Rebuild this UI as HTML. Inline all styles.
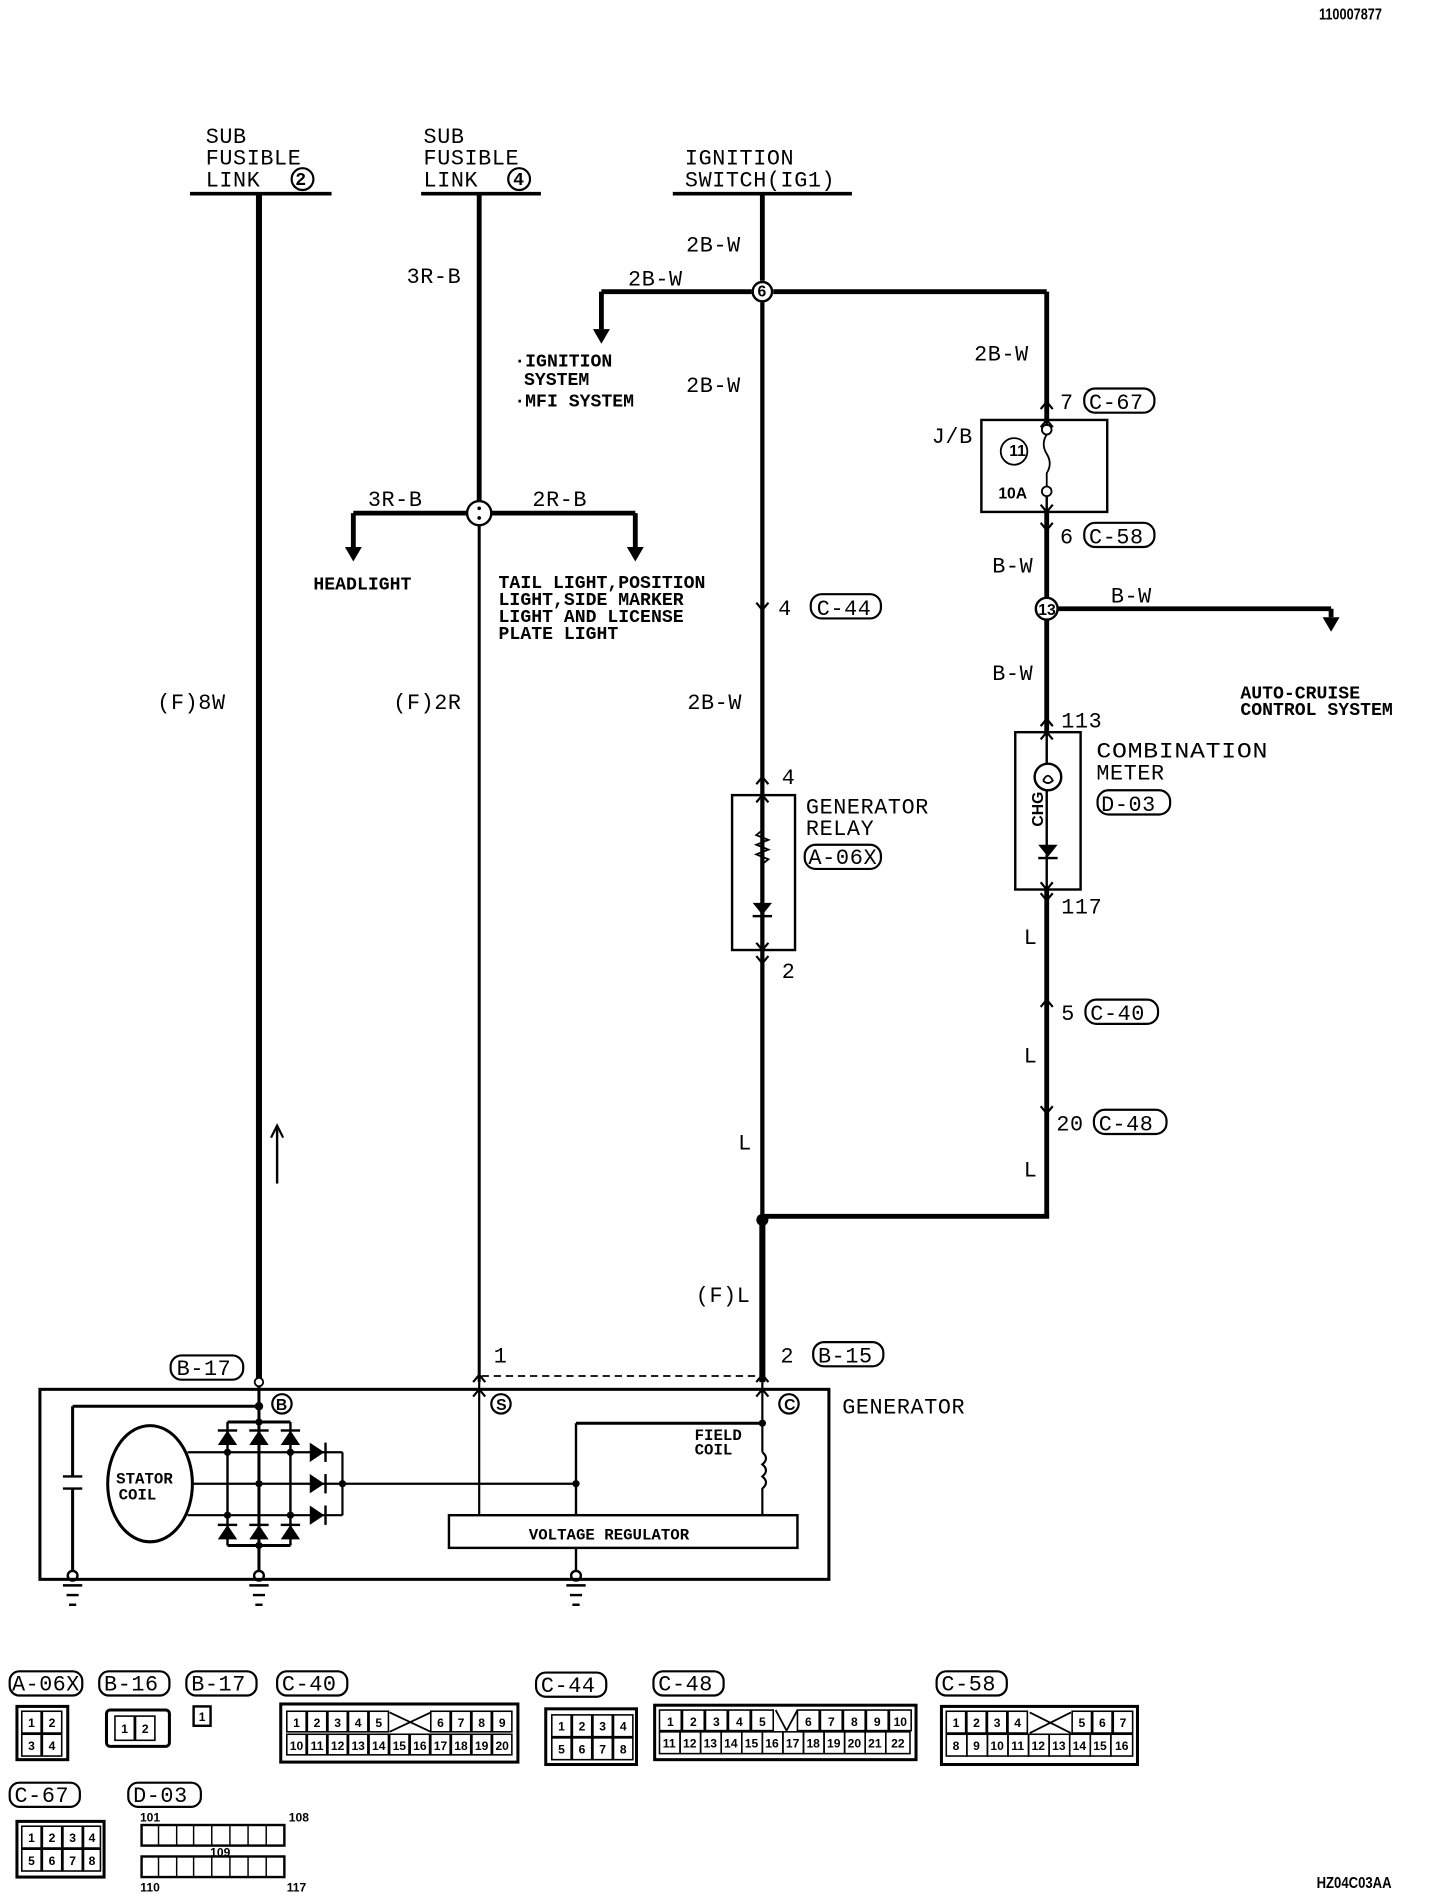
<!DOCTYPE html>
<html><head><meta charset="utf-8"><style>
html,body{margin:0;padding:0;background:#fff}
svg{display:block}
text{font-family:"Liberation Mono",monospace;fill:#000}
.t{font-size:18px;letter-spacing:0.5px}
.s{font-size:15px;font-weight:bold}
.b{font-size:13px;font-weight:bold;font-family:"Liberation Sans",sans-serif}
.c text{font-family:"Liberation Sans",sans-serif;font-weight:bold;font-size:10px;text-anchor:middle}
.c rect{fill:none;stroke:#000;stroke-width:1.3}
</style></head><body>
<svg width="1440" height="1894" viewBox="0 0 1190 1565" preserveAspectRatio="none" xmlns="http://www.w3.org/2000/svg">
<g stroke="#000" fill="none" stroke-linecap="butt">
<line x1="157" y1="160" x2="274" y2="160" stroke-width="3"/>
<line x1="348" y1="160" x2="447" y2="160" stroke-width="3"/>
<line x1="556" y1="160" x2="704" y2="160" stroke-width="3"/>
<line x1="214" y1="160" x2="214" y2="1142" stroke-width="5"/>
<line x1="396" y1="160" x2="396" y2="414" stroke-width="4"/>
<line x1="396" y1="434" x2="396" y2="1142" stroke-width="2.5"/>
<line x1="630" y1="160" x2="630" y2="232" stroke-width="4"/>
<line x1="630" y1="250" x2="630" y2="1142" stroke-width="3.5"/>
<line x1="630" y1="1008" x2="630" y2="1142" stroke-width="5"/>
<line x1="497" y1="241" x2="621" y2="241" stroke-width="4"/>
<line x1="639" y1="241" x2="865" y2="241" stroke-width="4"/>
<line x1="497" y1="241" x2="497" y2="272" stroke-width="4"/>
<line x1="865" y1="241" x2="865" y2="347" stroke-width="4"/>
<circle cx="630" cy="241" r="8" stroke-width="2" fill="#fff"/>
<line x1="292" y1="424" x2="386" y2="424" stroke-width="4"/>
<line x1="406" y1="424" x2="525" y2="424" stroke-width="4"/>
<line x1="292" y1="424" x2="292" y2="452" stroke-width="4"/>
<line x1="525" y1="424" x2="525" y2="452" stroke-width="4"/>
<circle cx="396" cy="424" r="10" stroke-width="2" fill="#fff"/>
<rect x="811" y="347" width="104" height="76" stroke-width="2"/>
<line x1="865" y1="423" x2="865" y2="495" stroke-width="4"/>
<line x1="865" y1="512" x2="865" y2="605" stroke-width="4"/>
<line x1="874" y1="503" x2="1100" y2="503" stroke-width="4"/>
<line x1="1100" y1="503" x2="1100" y2="510" stroke-width="4"/>
<circle cx="865" cy="503" r="9" stroke-width="2" fill="#fff"/>
<line x1="865" y1="347" x2="865" y2="352" stroke-width="2"/>
<circle cx="865" cy="355" r="4" stroke-width="1.5"/>
<path d="M865 359 Q860 367 865 375 Q870 383 865 391 L865 402" stroke-width="1.5"/>
<circle cx="865" cy="406" r="4" stroke-width="1.5"/>
<line x1="865" y1="410" x2="865" y2="423" stroke-width="2"/>
<circle cx="838" cy="373" r="11" stroke-width="1.5"/>
<rect x="839" y="605" width="54" height="130" stroke-width="2"/>
<line x1="865" y1="605" x2="865" y2="632" stroke-width="2"/>
<circle cx="866" cy="642" r="11" stroke-width="2"/>
<path d="M862 645 q4 -8 8 0 q-4 4 -8 0" stroke-width="1.5"/>
<line x1="865" y1="653" x2="865" y2="735" stroke-width="2"/>
<line x1="865" y1="735" x2="865" y2="1006" stroke-width="4"/>
<line x1="630" y1="1005" x2="867" y2="1005" stroke-width="4"/>
<rect x="605" y="657" width="52" height="128" stroke-width="2"/>
<line x1="229" y1="932" x2="229" y2="978" stroke-width="2"/>
<line x1="398" y1="1137" x2="628" y2="1137" stroke-width="1.5" stroke-dasharray="6,4"/>
<rect x="33" y="1148" width="652" height="157" stroke-width="2.5"/>
<line x1="214" y1="1142" x2="214" y2="1277" stroke-width="2.5"/>
<line x1="60" y1="1162" x2="214" y2="1162" stroke-width="2.5"/>
<line x1="60" y1="1162" x2="60" y2="1220" stroke-width="2.5"/>
<line x1="52" y1="1220" x2="68" y2="1220" stroke-width="2"/>
<line x1="52" y1="1230" x2="68" y2="1230" stroke-width="2"/>
<line x1="60" y1="1230" x2="60" y2="1298" stroke-width="2.5"/>
<line x1="188" y1="1175" x2="240" y2="1175" stroke-width="2.5"/>
<line x1="188" y1="1277" x2="240" y2="1277" stroke-width="2.5"/>
<line x1="188" y1="1175" x2="188" y2="1277" stroke-width="2"/>
<line x1="240" y1="1175" x2="240" y2="1277" stroke-width="2"/>
<line x1="214" y1="1277" x2="214" y2="1298" stroke-width="2.5"/>
<ellipse cx="124" cy="1226" rx="35" ry="48" stroke-width="2.5"/>
<path d="M155 1200 H283 M159 1226 H476 M155 1252 H283 M283 1200 V1252" stroke-width="1.8"/>
<line x1="396" y1="1142" x2="396" y2="1252" stroke-width="1.8"/>
<line x1="630" y1="1142" x2="630" y2="1200" stroke-width="1.8"/>
<path d="M630 1200 q6 5 0 10 q6 5 0 10 q6 5 0 10 L630 1252" stroke-width="1.8"/>
<line x1="476" y1="1176" x2="630" y2="1176" stroke-width="2.5"/>
<line x1="476" y1="1176" x2="476" y2="1252" stroke-width="2"/>
<rect x="371" y="1252" width="288" height="27" stroke-width="2"/>
<line x1="476" y1="1279" x2="476" y2="1298" stroke-width="2"/>
<g stroke-width="2">
<circle cx="60" cy="1302" r="4"/><line x1="52" y1="1310" x2="68" y2="1310"/><line x1="55" y1="1318" x2="65" y2="1318"/><line x1="57" y1="1326" x2="63" y2="1326"/>
<circle cx="214" cy="1302" r="4"/><line x1="206" y1="1310" x2="222" y2="1310"/><line x1="209" y1="1318" x2="219" y2="1318"/><line x1="211" y1="1326" x2="217" y2="1326"/>
<circle cx="476" cy="1302" r="4"/><line x1="468" y1="1310" x2="484" y2="1310"/><line x1="471" y1="1318" x2="481" y2="1318"/><line x1="473" y1="1326" x2="479" y2="1326"/>
</g>
<g stroke-width="1.8">
<path d="M860 338 L865 332 L870 338"/><path d="M860 353 L865 347 L870 353"/>
<path d="M860 417 L865 423 L870 417"/><path d="M860 432 L865 438 L870 432"/>
<path d="M860 600 L865 594 L870 600"/><path d="M860 611 L865 605 L870 611"/>
<path d="M860 729 L865 735 L870 729"/><path d="M860 738 L865 744 L870 738"/>
<path d="M860 832 L865 826 L870 832"/>
<path d="M860 914 L865 920 L870 914"/>
<path d="M625 498 L630 504 L635 498"/>
<path d="M625 648 L630 642 L635 648"/><path d="M625 663 L630 657 L635 663"/>
<path d="M625 779 L630 785 L635 779"/><path d="M625 790 L630 796 L635 790"/>
<path d="M391 1142 L396 1136 L401 1142"/><path d="M391 1154 L396 1148 L401 1154"/>
<path d="M625 1142 L630 1136 L635 1142"/><path d="M625 1154 L630 1148 L635 1154"/>
<path d="M224 940 L229 930 L234 940"/>
</g>
<path d="M630 686 l-5 4 l10 4 l-10 4 l10 4 l-10 4 l10 4 l-5 4" stroke-width="1.5"/>
</g>
<g fill="#000">
<polygon points="490,272 504,272 497,284"/>
<polygon points="285,452 299,452 292,464"/>
<polygon points="518,452 532,452 525,464"/>
<polygon points="1093,510 1107,510 1100,522"/>
<polygon points="622,746 638,746 630,756"/><rect x="622" y="756" width="16" height="2"/>
<polygon points="858,698 874,698 866,708"/><rect x="858" y="708" width="16" height="2"/>
<circle cx="630" cy="1008" r="5"/>
<circle cx="396" cy="420" r="1.5"/><circle cx="396" cy="428" r="1.5"/>
<circle cx="214" cy="1162" r="3.5"/><circle cx="214" cy="1142" r="3.5" fill="#fff" stroke="#000" stroke-width="1.5"/>
<circle cx="476" cy="1226" r="3"/><circle cx="630" cy="1176" r="3"/><circle cx="283" cy="1226" r="3"/>
<circle cx="188" cy="1200" r="3"/><circle cx="214" cy="1226" r="3"/><circle cx="240" cy="1252" r="3"/>
<circle cx="188" cy="1252" r="3"/><circle cx="240" cy="1200" r="3"/><circle cx="214" cy="1175" r="3"/><circle cx="214" cy="1277" r="3"/>
<polygon points="180,1194 196,1194 188,1182"/><rect x="180" y="1181" width="16" height="2"/>
<polygon points="206,1194 222,1194 214,1182"/><rect x="206" y="1181" width="16" height="2"/>
<polygon points="232,1194 248,1194 240,1182"/><rect x="232" y="1181" width="16" height="2"/>
<polygon points="180,1272 196,1272 188,1260"/><rect x="180" y="1259" width="16" height="2"/>
<polygon points="206,1272 222,1272 214,1260"/><rect x="206" y="1259" width="16" height="2"/>
<polygon points="232,1272 248,1272 240,1260"/><rect x="232" y="1259" width="16" height="2"/>
<polygon points="256,1192 256,1208 268,1200"/><rect x="268" y="1192" width="2" height="16"/>
<polygon points="256,1218 256,1234 268,1226"/><rect x="268" y="1218" width="2" height="16"/>
<polygon points="256,1244 256,1260 268,1252"/><rect x="268" y="1244" width="2" height="16"/>
</g>
<g fill="none" stroke="#000" stroke-width="1.8">
<rect x="896" y="321" width="58" height="20" rx="9"/>
<rect x="896" y="432" width="58" height="20" rx="9"/>
<rect x="670" y="491" width="58" height="20" rx="9"/>
<rect x="665" y="698" width="63" height="20" rx="9"/>
<rect x="907" y="653" width="60" height="20" rx="9"/>
<rect x="897" y="826" width="60" height="20" rx="9"/>
<rect x="904" y="917" width="60" height="20" rx="9"/>
<rect x="672" y="1109" width="58" height="20" rx="9"/>
<rect x="141" y="1120" width="60" height="20" rx="9"/>
<circle cx="250" cy="148" r="9"/><circle cx="429" cy="148" r="9"/>
<circle cx="233" cy="1160" r="8"/><circle cx="414" cy="1160" r="8"/><circle cx="652" cy="1160" r="8"/>
</g>
<g class="t">
<text x="170" y="118">SUB</text><text x="170" y="136">FUSIBLE</text><text x="170" y="154">LINK</text><text x="244" y="153" class="s" font-size="12">2</text>
<text x="350" y="118">SUB</text><text x="350" y="136">FUSIBLE</text><text x="350" y="154">LINK</text><text x="424" y="153" class="s" font-size="12">4</text>
<text x="566" y="136">IGNITION</text><text x="566" y="154">SWITCH(IG1)</text>
<text x="567" y="208">2B-W</text><text x="519" y="236">2B-W</text><text x="336" y="234">3R-B</text>
<text x="805" y="298">2B-W</text><text x="567" y="324">2B-W</text>
<text x="304" y="418">3R-B</text><text x="440" y="418">2R-B</text>
<text x="130" y="586">(F)8W</text><text x="325" y="586">(F)2R</text><text x="568" y="586">2B-W</text>
<text x="643" y="508">4</text><text x="675" y="508">C-44</text>
<text x="646" y="648">4</text><text x="646" y="808">2</text>
<text x="666" y="672">GENERATOR</text><text x="666" y="690">RELAY</text><text x="668" y="714" textLength="57" lengthAdjust="spacingAndGlyphs">A-06X</text>
<text x="610" y="950">L</text><text x="575" y="1076">(F)L</text>
<text x="645" y="1126">2</text><text x="676" y="1126">B-15</text><text x="408" y="1126">1</text><text x="146" y="1136">B-17</text>
<text x="696" y="1168">GENERATOR</text>
<text x="876" y="338">7</text><text x="900" y="338">C-67</text>
<text x="770" y="366">J/B</text>
<text x="876" y="449">6</text><text x="900" y="449">C-58</text>
<text x="820" y="473">B-W</text><text x="918" y="498">B-W</text><text x="820" y="562">B-W</text>
<text x="877" y="601">113</text>
<text x="906" y="626" textLength="142" lengthAdjust="spacingAndGlyphs">COMBINATION</text><text x="906" y="644">METER</text><text x="910" y="670">D-03</text>
<text x="877" y="755">117</text><text x="846" y="780">L</text>
<text x="877" y="843">5</text><text x="901" y="843">C-40</text><text x="846" y="878">L</text>
<text x="873" y="934">20</text><text x="908" y="934">C-48</text><text x="846" y="972">L</text>
</g>
<g class="s">
<text x="425" y="303">·IGNITION</text><text x="433" y="318">SYSTEM</text><text x="425" y="336">·MFI SYSTEM</text>
<text x="259" y="487">HEADLIGHT</text>
<text x="412" y="486">TAIL LIGHT,POSITION</text><text x="412" y="500">LIGHT,SIDE MARKER</text><text x="412" y="514">LIGHT AND LICENSE</text><text x="412" y="528">PLATE LIGHT</text>
<text x="1025" y="577">AUTO-CRUISE</text><text x="1025" y="591">CONTROL SYSTEM</text>
<text x="96" y="1226" font-size="13">STATOR</text><text x="98" y="1239" font-size="13">COIL</text>
<text x="574" y="1190" font-size="13">FIELD</text><text x="574" y="1202" font-size="13">COIL</text>
<text x="437" y="1272" font-size="13">VOLTAGE REGULATOR</text>
</g>
<text class="b" x="834" y="377" font-size="11">11</text><text class="b" x="825" y="412">10A</text>
<text class="b" x="862" y="683" font-size="12" transform="rotate(-90 862 683)">CHG</text>
<text class="b" x="228" y="1165" font-size="11">B</text><text class="b" x="410" y="1165" font-size="11">S</text><text class="b" x="648" y="1165" font-size="11">C</text>
<text class="b" x="626" y="245" font-size="9">6</text><text class="b" x="858" y="508" font-size="10">13</text>
<text class="b" x="1090" y="16" textLength="52" lengthAdjust="spacingAndGlyphs">110007877</text>
<text class="b" x="1088" y="1560" textLength="62" lengthAdjust="spacingAndGlyphs">HZ04C03AA</text>
<g fill="none" stroke="#000" stroke-width="1.8">
<rect x="8" y="1381" width="60" height="20" rx="8"/><rect x="82" y="1381" width="58" height="20" rx="8"/><rect x="154" y="1381" width="58" height="20" rx="8"/><rect x="229" y="1381" width="58" height="20" rx="8"/>
<rect x="443" y="1382" width="58" height="20" rx="8"/><rect x="540" y="1381" width="58" height="20" rx="8"/><rect x="774" y="1381" width="58" height="20" rx="8"/>
<rect x="8" y="1473" width="58" height="20" rx="8"/><rect x="106" y="1473" width="60" height="20" rx="8"/>
<rect x="14" y="1410" width="42" height="44" stroke-width="2.5"/>
<rect x="88" y="1413" width="52" height="30" stroke-width="2.5" rx="3"/>
<rect x="160" y="1410" width="14" height="16" stroke-width="2"/>
<rect x="232" y="1408" width="196" height="48" stroke-width="2.5"/>
<rect x="451" y="1412" width="75" height="46" stroke-width="2.5"/>
<rect x="541" y="1409" width="216" height="45" stroke-width="2.5"/>
<rect x="778" y="1410" width="162" height="48" stroke-width="2.5"/>
<rect x="14" y="1505" width="72" height="46" stroke-width="2.5"/>
<rect x="117" y="1508" width="118" height="17" stroke-width="2"/><rect x="117" y="1534" width="118" height="17" stroke-width="2"/>
<path d="M322 1415 L356 1431 M356 1415 L322 1431 M851 1415 L885 1432 M885 1415 L851 1432 M641 1413 L650 1430 L659 1413" stroke-width="1.5"/>
<path d="M131 1508 V1525 M146 1508 V1525 M160 1508 V1525 M175 1508 V1525 M190 1508 V1525 M205 1508 V1525 M220 1508 V1525 M131 1534 V1551 M146 1534 V1551 M160 1534 V1551 M175 1534 V1551 M190 1534 V1551 M205 1534 V1551 M220 1534 V1551" stroke-width="1.2"/>
</g>
<text class="t" x="10" y="1397" textLength="56" lengthAdjust="spacingAndGlyphs">A-06X</text><text class="t" x="86" y="1397">B-16</text><text class="t" x="158" y="1397">B-17</text><text class="t" x="233" y="1397">C-40</text>
<text class="t" x="447" y="1398">C-44</text><text class="t" x="544" y="1397">C-48</text><text class="t" x="778" y="1397">C-58</text>
<text class="t" x="12" y="1489">C-67</text><text class="t" x="110" y="1489">D-03</text>
<g class="c">
<rect x="18" y="1414" width="16" height="18"/><rect x="35" y="1414" width="16" height="18"/><rect x="18" y="1433" width="16" height="18"/><rect x="35" y="1433" width="16" height="18"/>
<text x="26" y="1427">1</text><text x="43" y="1427">2</text><text x="26" y="1446">3</text><text x="43" y="1446">4</text>
<rect x="95" y="1418" width="16" height="20"/><rect x="112" y="1418" width="16" height="20"/><text x="103" y="1432">1</text><text x="120" y="1432">2</text>
<text x="167" y="1422">1</text>
<rect x="237" y="1414" width="16" height="17"/><rect x="254" y="1414" width="16" height="17"/><rect x="271" y="1414" width="16" height="17"/><rect x="288" y="1414" width="16" height="17"/><rect x="305" y="1414" width="16" height="17"/>
<rect x="356" y="1414" width="16" height="17"/><rect x="373" y="1414" width="16" height="17"/><rect x="390" y="1414" width="16" height="17"/><rect x="407" y="1414" width="16" height="17"/>
<text x="245" y="1427">1</text><text x="262" y="1427">2</text><text x="279" y="1427">3</text><text x="296" y="1427">4</text><text x="313" y="1427">5</text>
<text x="364" y="1427">6</text><text x="381" y="1427">7</text><text x="398" y="1427">8</text><text x="415" y="1427">9</text>
<rect x="237" y="1433" width="16" height="17"/><rect x="254" y="1433" width="16" height="17"/><rect x="271" y="1433" width="16" height="17"/><rect x="288" y="1433" width="16" height="17"/><rect x="305" y="1433" width="16" height="17"/><rect x="322" y="1433" width="16" height="17"/><rect x="339" y="1433" width="16" height="17"/><rect x="356" y="1433" width="16" height="17"/><rect x="373" y="1433" width="16" height="17"/><rect x="390" y="1433" width="16" height="17"/><rect x="407" y="1433" width="16" height="17"/>
<text x="245" y="1446">10</text><text x="262" y="1446">11</text><text x="279" y="1446">12</text><text x="296" y="1446">13</text><text x="313" y="1446">14</text><text x="330" y="1446">15</text><text x="347" y="1446">16</text><text x="364" y="1446">17</text><text x="381" y="1446">18</text><text x="398" y="1446">19</text><text x="415" y="1446">20</text>
<rect x="456" y="1417" width="16" height="18"/><rect x="473" y="1417" width="16" height="18"/><rect x="490" y="1417" width="16" height="18"/><rect x="507" y="1417" width="16" height="18"/>
<rect x="456" y="1436" width="16" height="18"/><rect x="473" y="1436" width="16" height="18"/><rect x="490" y="1436" width="16" height="18"/><rect x="507" y="1436" width="16" height="18"/>
<text x="464" y="1430">1</text><text x="481" y="1430">2</text><text x="498" y="1430">3</text><text x="515" y="1430">4</text><text x="464" y="1449">5</text><text x="481" y="1449">6</text><text x="498" y="1449">7</text><text x="515" y="1449">8</text>
<rect x="545" y="1413" width="18" height="17"/><rect x="564" y="1413" width="18" height="17"/><rect x="583" y="1413" width="18" height="17"/><rect x="602" y="1413" width="18" height="17"/><rect x="621" y="1413" width="18" height="17"/>
<rect x="659" y="1413" width="18" height="17"/><rect x="678" y="1413" width="18" height="17"/><rect x="697" y="1413" width="18" height="17"/><rect x="716" y="1413" width="18" height="17"/><rect x="735" y="1413" width="18" height="17"/>
<text x="554" y="1426">1</text><text x="573" y="1426">2</text><text x="592" y="1426">3</text><text x="611" y="1426">4</text><text x="630" y="1426">5</text>
<text x="668" y="1426">6</text><text x="687" y="1426">7</text><text x="706" y="1426">8</text><text x="725" y="1426">9</text><text x="744" y="1426">10</text>
<rect x="545" y="1431" width="17" height="18"/><rect x="562" y="1431" width="17" height="18"/><rect x="579" y="1431" width="17" height="18"/><rect x="596" y="1431" width="17" height="18"/><rect x="613" y="1431" width="17" height="18"/><rect x="630" y="1431" width="17" height="18"/><rect x="647" y="1431" width="17" height="18"/><rect x="664" y="1431" width="17" height="18"/><rect x="681" y="1431" width="17" height="18"/><rect x="698" y="1431" width="17" height="18"/><rect x="715" y="1431" width="17" height="18"/><rect x="732" y="1431" width="20" height="18"/>
<text x="553" y="1444">11</text><text x="570" y="1444">12</text><text x="587" y="1444">13</text><text x="604" y="1444">14</text><text x="621" y="1444">15</text><text x="638" y="1444">16</text><text x="655" y="1444">17</text><text x="672" y="1444">18</text><text x="689" y="1444">19</text><text x="706" y="1444">20</text><text x="723" y="1444">21</text><text x="742" y="1444">22</text>
<rect x="782" y="1414" width="16" height="18"/><rect x="799" y="1414" width="16" height="18"/><rect x="816" y="1414" width="16" height="18"/><rect x="833" y="1414" width="16" height="18"/>
<rect x="886" y="1414" width="16" height="18"/><rect x="903" y="1414" width="16" height="18"/><rect x="920" y="1414" width="16" height="18"/>
<text x="790" y="1427">1</text><text x="807" y="1427">2</text><text x="824" y="1427">3</text><text x="841" y="1427">4</text><text x="894" y="1427">5</text><text x="911" y="1427">6</text><text x="928" y="1427">7</text>
<rect x="782" y="1433" width="17" height="18"/><rect x="799" y="1433" width="17" height="18"/><rect x="816" y="1433" width="17" height="18"/><rect x="833" y="1433" width="17" height="18"/><rect x="850" y="1433" width="17" height="18"/><rect x="867" y="1433" width="17" height="18"/><rect x="884" y="1433" width="17" height="18"/><rect x="901" y="1433" width="17" height="18"/><rect x="918" y="1433" width="18" height="18"/>
<text x="790" y="1446">8</text><text x="807" y="1446">9</text><text x="824" y="1446">10</text><text x="841" y="1446">11</text><text x="858" y="1446">12</text><text x="875" y="1446">13</text><text x="892" y="1446">14</text><text x="909" y="1446">15</text><text x="927" y="1446">16</text>
<rect x="18" y="1509" width="16" height="18"/><rect x="35" y="1509" width="16" height="18"/><rect x="52" y="1509" width="16" height="18"/><rect x="69" y="1509" width="14" height="18"/>
<rect x="18" y="1528" width="16" height="18"/><rect x="35" y="1528" width="16" height="18"/><rect x="52" y="1528" width="16" height="18"/><rect x="69" y="1528" width="14" height="18"/>
<text x="26" y="1522">1</text><text x="43" y="1522">2</text><text x="60" y="1522">3</text><text x="76" y="1522">4</text><text x="26" y="1541">5</text><text x="43" y="1541">6</text><text x="60" y="1541">7</text><text x="76" y="1541">8</text>
<text x="124" y="1505">101</text><text x="247" y="1505">108</text><text x="182" y="1534">109</text><text x="124" y="1563">110</text><text x="245" y="1563">117</text>
</g>
</svg>
</body></html>
